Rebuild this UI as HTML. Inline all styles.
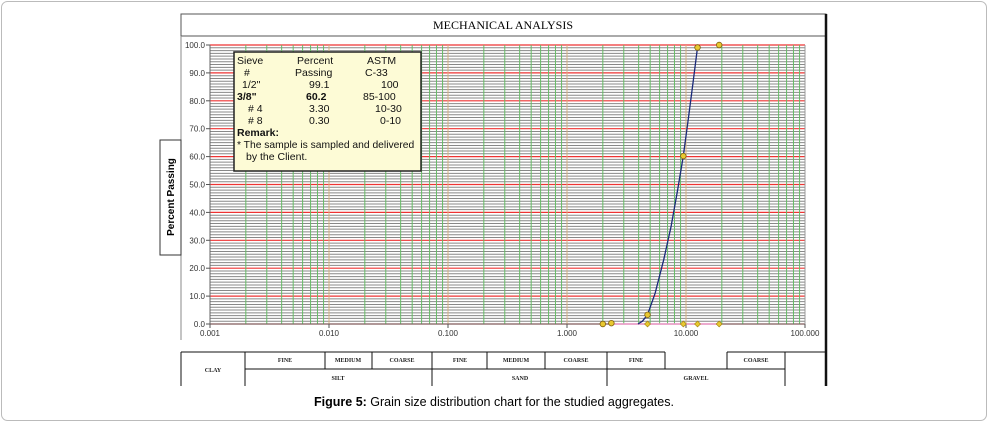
<!DOCTYPE html>
<html><head><meta charset="utf-8"><style>
body{margin:0;background:#fff;}
#wrap{position:relative;width:988px;height:422px;overflow:hidden;font-family:"Liberation Sans",sans-serif;}
</style></head><body>
<div id="wrap">
<svg id="svg" width="988" height="422" xmlns="http://www.w3.org/2000/svg">
<rect x="1.5" y="1.5" width="985" height="419" rx="6" fill="none" stroke="#bbb"/>
<rect x="181" y="14" width="645" height="22" fill="#fff" stroke="#555"/>
<text x="503" y="29" font-family="Liberation Serif,serif" font-size="12" text-anchor="middle">MECHANICAL ANALYSIS</text>
<line x1="181" y1="36" x2="181" y2="140" stroke="#888"/>
<line x1="181" y1="255" x2="181" y2="340" stroke="#888"/>
<line x1="826" y1="14" x2="826" y2="340" stroke="#111" stroke-width="2.5"/>
<rect x="160" y="140" width="21" height="115" fill="#fff" stroke="#333"/>
<text transform="translate(174,197) rotate(-90)" font-size="10" font-weight="bold" text-anchor="middle">Percent Passing</text>
<g id="grid"></g><g id="axes"></g><g id="series"></g>
<g>
<rect x="234" y="52" width="187" height="119" fill="#fdfbd6" stroke="#222" stroke-width="1.5"/>
<g font-size="10.5" fill="#111">
<text x="237" y="64">Sieve</text><text x="297" y="64">Percent</text><text x="367" y="64">ASTM</text>
<text x="244" y="76">#</text><text x="295" y="76">Passing</text><text x="365" y="76">C-33</text>
<text x="242" y="88">1/2"</text><text x="309" y="88">99.1</text><text x="381" y="88">100</text>
<text x="237" y="100" font-weight="bold">3/8"</text><text x="306" y="100" font-weight="bold">60.2</text><text x="363" y="100">85-100</text>
<text x="248" y="112"># 4</text><text x="309" y="112">3.30</text><text x="375" y="112">10-30</text>
<text x="248" y="124"># 8</text><text x="309" y="124">0.30</text><text x="380" y="124">0-10</text>
<text x="237" y="136" font-weight="bold">Remark:</text>
<text x="237" y="148" font-size="10.3">*  The sample is sampled and delivered</text>
<text x="246" y="160">by the Client.</text>
</g></g>
<g id="table" font-family="Liberation Serif,serif" font-size="6" font-weight="bold" text-anchor="middle" fill="#222"></g>
<text x="494" y="406" font-size="12.5" text-anchor="middle"><tspan font-weight="bold">Figure 5:</tspan> Grain size distribution chart for the studied aggregates.</text>
</svg>
</div>
<script>
const xTickLabels=["0.001","0.010","0.100","1.000","10.000","100.000"];
const yTickLabels=["0.0","10.0","20.0","30.0","40.0","50.0","60.0","70.0","80.0","90.0","100.0"];
const sieveSizes=[19,12.5,9.5,4.75,2.36,2.0];
const passing=[100,99.1,60.2,3.3,0.3,0.0];
const extraSizes=[19,12.5,9.5,4.75];
const extraVals=[0,0,0,0];
const curveSizes=[3.95,4.3,4.75,5.5,6.5,7.5,8.5,9.5,10.5,11.5,12.5];
const curveVals=[0,1.0,3.3,11,23,35,48,60.2,74,87,99.1];
const NS="http://www.w3.org/2000/svg";
const X0=210,X1=805,Y0=324,Y1=45;
const xs=v=>X0+(Math.log10(v)+3)/5*(X1-X0);
const ys=v=>Y0-v/100*(Y0-Y1);
function mk(tag,attrs,parent){const e=document.createElementNS(NS,tag);for(const k in attrs)e.setAttribute(k,attrs[k]);parent.appendChild(e);return e;}
const grid=document.getElementById('grid'),axes=document.getElementById('axes'),ser=document.getElementById('series'),tbl=document.getElementById('table');
for(let i=0;i<=100;i++){
 const l=mk('line',{x1:X0,x2:X1,y1:ys(i),y2:ys(i),stroke:i%10==0?'#e33':'#888','stroke-width':i%10==0?1.2:1},grid);
 
 
}
for(let d=-3;d<2;d++){for(let m=1;m<10;m++){
 const v=m*Math.pow(10,d);
 const l=mk('line',{x1:xs(v),x2:xs(v),y1:Y1,y2:Y0,stroke:m==1?'#d4b080':'#6b6','stroke-width':1},grid);
 
 
}}
mk('line',{x1:X0,x2:X0,y1:Y1,y2:Y0,stroke:'#666'},axes);
mk('line',{x1:X0,x2:X1,y1:Y0,y2:Y0,stroke:'#666'},axes);
mk('line',{x1:X1,x2:X1,y1:Y1,y2:Y0,stroke:'#999'},axes);
yTickLabels.forEach((t,i)=>{const v=i*10;
 mk('line',{x1:X0-4,x2:X0,y1:ys(v),y2:ys(v),stroke:'#555'},axes);
 const e=mk('text',{x:X0-5,y:ys(v)+3,'font-size':8,'text-anchor':'end',fill:'#333'},axes);e.textContent=t;
 
 
});
xTickLabels.forEach((t,i)=>{const v=Math.pow(10,i-3);
 mk('line',{x1:xs(v),x2:xs(v),y1:Y0,y2:Y0+4,stroke:'#555'},axes);
 const e=mk('text',{x:xs(v),y:Y0+12,'font-size':8,'text-anchor':'middle',fill:'#333'},axes);e.textContent=t;
 
 
});
mk('line',{x1:xs(2.36),x2:xs(19),y1:ys(0),y2:ys(0),stroke:'#e8a0d0','stroke-width':1.5},ser);
let d='';curveSizes.forEach((s,i)=>{d+=(i?'L':'M')+xs(s).toFixed(1)+','+ys(curveVals[i]).toFixed(1);});
const c=mk('path',{d:d,fill:'none',stroke:'#1a2a7a','stroke-width':1.3},ser);


extraSizes.forEach((s,i)=>{const x=xs(s),y=ys(extraVals[i]);
 const p=mk('path',{d:`M${x},${y-3}L${x+3},${y}L${x},${y+3}L${x-3},${y}Z`,fill:'#e8c830',stroke:'#a08010','stroke-width':0.6},ser);
 
 
});
sieveSizes.forEach((s,i)=>{
 const p=mk('circle',{cx:xs(s),cy:ys(passing[i]),r:2.8,fill:'#e8c830',stroke:'#806010','stroke-width':0.8},ser);
 
 
});
const T=352,M=369,B=386;
const ln=(a,b,c2,e,w)=>mk('line',{x1:a,y1:b,x2:c2,y2:e,stroke:'#111','stroke-width':w||1},tbl);
ln(181,T,665,T);ln(727,T,826,T);ln(665,M,727,M);ln(245,M,785,M);
ln(181,T,181,B);ln(826,T-12,826,B,2.5);
[245,325,372,432,487,545,607,665].forEach(x=>ln(x,T,x,x==245||x==432||x==607?B:M));
ln(727,T,727,M);ln(785,T,785,B);
const lab=(t,x,y)=>{const e=mk('text',{x:x,y:y},tbl);e.textContent=t;};
lab('CLAY',213,372);
[['FINE',285],['MEDIUM',348],['COARSE',402],['FINE',460],['MEDIUM',516],['COARSE',576],['FINE',636],['COARSE',756]].forEach(a=>lab(a[0],a[1],362));
lab('SILT',338,380);lab('SAND',520,380);lab('GRAVEL',696,380);
</script>
</body></html>
